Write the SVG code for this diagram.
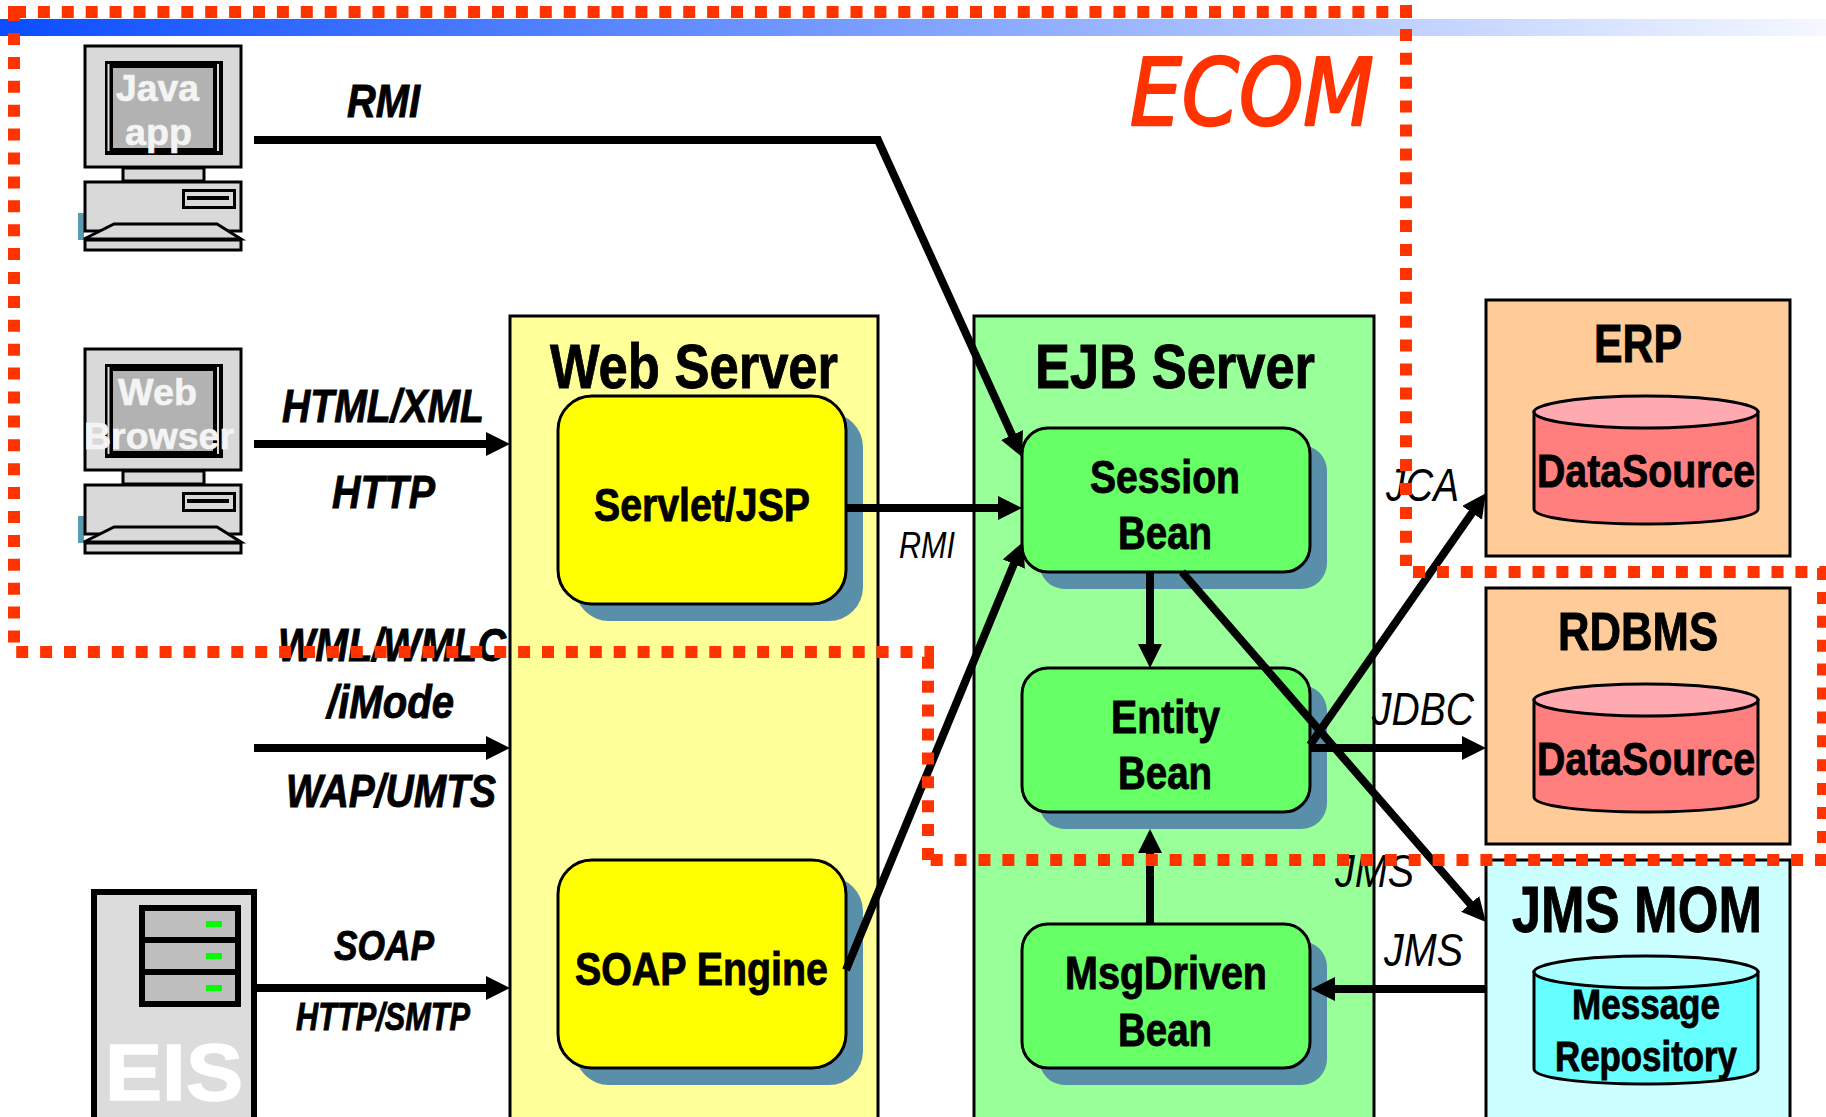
<svg xmlns="http://www.w3.org/2000/svg" xmlns:xlink="http://www.w3.org/1999/xlink" width="1826" height="1117" viewBox="0 0 1826 1117">
<defs>
<style>
text{font-family:"Liberation Sans",Arial,sans-serif;fill:#000;text-anchor:start}
.b{font-weight:700;stroke:#000;stroke-width:.9}
.bi{font-weight:700;font-style:italic;stroke:#000;stroke-width:.9}
.i{font-style:italic}
.w{fill:#f4f4f4;font-weight:700;stroke:#f4f4f4;stroke-width:.6}
.box{stroke:#000;stroke-width:3}
.shadow{fill:#5a8fa9}
.node{stroke:#000;stroke-width:3}
.cn{fill:none;stroke:#000;stroke-width:8;marker-end:url(#ah)}
.red{fill:none;stroke:#ff3300;stroke-width:12;stroke-dasharray:12 11.9}
.ic{fill:#d9d9d9;stroke:#000;stroke-width:3}
.cyl{stroke:#000;stroke-width:3}
</style>
<linearGradient id="band" x1="0" x2="1" y1="0" y2="0"><stop offset="0" stop-color="#0b4dff"/><stop offset="1" stop-color="#f5f8ff"/></linearGradient>
<marker id="ah" markerUnits="userSpaceOnUse" markerWidth="24" markerHeight="24" refX="12" refY="12" orient="auto" viewBox="0 0 24 24"><path d="M0 0L24 12L0 24Z" fill="#000"/></marker>
<g id="pc">
<rect x="78" y="212" width="6" height="27" fill="#5b9bb0"/>
<rect class="ic" x="85" y="45" width="156" height="121"/>
<rect x="105" y="60" width="118" height="94" fill="#000"/>
<rect x="107.500" y="63" width="2" height="87" fill="#d9d9d9"/>
<rect x="217" y="63" width="2" height="87" fill="#d9d9d9"/>
<rect x="113" y="67" width="100" height="80" fill="#b2b2b2"/>
<rect class="ic" x="123" y="167" width="81" height="13"/>
<rect class="ic" x="85" y="181" width="156" height="49"/>
<rect x="182" y="188" width="54" height="20" fill="#000"/>
<rect x="185" y="191" width="48" height="14" fill="#d9d9d9"/>
<rect x="187" y="195" width="42" height="4" fill="#000"/>
<path class="ic" d="M84 238L114 223H217L241 238Z"/>
<rect class="ic" x="85" y="239" width="156" height="10"/>
</g>
</defs>
<rect width="1826" height="1117" fill="#fff"/>
<rect id="band-top" x="0" y="19" width="1826" height="17" fill="url(#band)"/>

<g id="java-app">
<use href="#pc" xlink:href="#pc" y="1"/>
<text class="w" x="116" y="101" font-size="37" textLength="83" lengthAdjust="spacingAndGlyphs">Java</text>
<text class="w" x="125" y="145" font-size="37" textLength="67" lengthAdjust="spacingAndGlyphs">app</text>
</g>
<g id="web-browser">
<use href="#pc" xlink:href="#pc" y="304"/>
<text class="w" x="118" y="405" font-size="37" textLength="79" lengthAdjust="spacingAndGlyphs">Web</text>
<text class="w" x="84" y="449" font-size="37" textLength="150" lengthAdjust="spacingAndGlyphs">Browser</text>
</g>
<g id="eis">
<rect x="94" y="892" width="160" height="232" fill="#dcdcdc" stroke="#000" stroke-width="6"/>
<rect x="139" y="905" width="102" height="102" fill="#000"/>
<rect x="145" y="911" width="90" height="26" fill="#bebebe"/>
<rect x="145" y="943" width="90" height="26" fill="#bebebe"/>
<rect x="145" y="975" width="90" height="26" fill="#bebebe"/>
<rect x="206" y="921" width="16" height="6" fill="#00ff00"/>
<rect x="206" y="953" width="16" height="6" fill="#00ff00"/>
<rect x="206" y="985" width="16" height="6" fill="#00ff00"/>
<text x="105" y="1100" font-size="80" font-weight="700" style="fill:#fff;stroke:#fff;stroke-width:1.500" textLength="138" lengthAdjust="spacingAndGlyphs">EIS</text>
</g>

<g id="web-server">
<rect class="box" x="510" y="316" width="368" height="810" fill="#ffff99"/>
<text class="b" x="550" y="388" font-size="63" textLength="288" lengthAdjust="spacingAndGlyphs">Web Server</text>
</g>
<g id="servlet-jsp">
<rect class="shadow" x="575" y="413" width="288" height="208" rx="34"/>
<rect class="node" x="558" y="396" width="288" height="208" rx="34" fill="#ffff00"/>
<text class="b" x="594" y="521" font-size="47" textLength="216" lengthAdjust="spacingAndGlyphs">Servlet/JSP</text>
</g>
<g id="soap-engine">
<rect class="shadow" x="575" y="877" width="288" height="208" rx="34"/>
<rect class="node" x="558" y="860" width="288" height="208" rx="34" fill="#ffff00"/>
<text class="b" x="575" y="985" font-size="47" textLength="253" lengthAdjust="spacingAndGlyphs">SOAP Engine</text>
</g>

<g id="ejb-server">
<rect class="box" x="974" y="316" width="400" height="810" fill="#99ff99"/>
<text class="b" x="1035" y="388" font-size="63" textLength="280" lengthAdjust="spacingAndGlyphs">EJB Server</text>
</g>
<g id="session-bean">
<rect class="shadow" x="1039" y="445" width="288" height="144" rx="26"/>
<rect class="node" x="1022" y="428" width="288" height="144" rx="26" fill="#66ff66"/>
<text class="b" x="1090" y="493" font-size="47" textLength="150" lengthAdjust="spacingAndGlyphs">Session</text>
<text class="b" x="1118" y="549" font-size="47" textLength="94" lengthAdjust="spacingAndGlyphs">Bean</text>
</g>
<g id="entity-bean">
<rect class="shadow" x="1039" y="685" width="288" height="144" rx="26"/>
<rect class="node" x="1022" y="668" width="288" height="144" rx="26" fill="#66ff66"/>
<text class="b" x="1111" y="733" font-size="47" textLength="109" lengthAdjust="spacingAndGlyphs">Entity</text>
<text class="b" x="1118" y="789" font-size="47" textLength="94" lengthAdjust="spacingAndGlyphs">Bean</text>
</g>
<g id="msgdriven-bean">
<rect class="shadow" x="1039" y="941" width="288" height="144" rx="26"/>
<rect class="node" x="1022" y="924" width="288" height="144" rx="26" fill="#66ff66"/>
<text class="b" x="1065" y="989" font-size="47" textLength="202" lengthAdjust="spacingAndGlyphs">MsgDriven</text>
<text class="b" x="1118" y="1046" font-size="47" textLength="94" lengthAdjust="spacingAndGlyphs">Bean</text>
</g>

<g id="erp">
<rect class="box" x="1486" y="300" width="304" height="256" fill="#ffcc99"/>
<text class="b" x="1594" y="362" font-size="53" textLength="88" lengthAdjust="spacingAndGlyphs">ERP</text>
<path class="cyl" d="M1534 412V509C1534 518 1584 524 1646 524S1758 518 1758 509V412Z" fill="#ff7f7f"/>
<ellipse class="cyl" cx="1646" cy="412" rx="112" ry="16" fill="#ffaab0"/>
<text class="b" x="1537" y="487" font-size="47" textLength="218" lengthAdjust="spacingAndGlyphs">DataSource</text>
</g>
<g id="rdbms">
<rect class="box" x="1486" y="588" width="304" height="256" fill="#ffcc99"/>
<text class="b" x="1558" y="650" font-size="53" textLength="160" lengthAdjust="spacingAndGlyphs">RDBMS</text>
<path class="cyl" d="M1534 700V797C1534 806 1584 812 1646 812S1758 806 1758 797V700Z" fill="#ff7f7f"/>
<ellipse class="cyl" cx="1646" cy="700" rx="112" ry="16" fill="#ffaab0"/>
<text class="b" x="1537" y="775" font-size="47" textLength="218" lengthAdjust="spacingAndGlyphs">DataSource</text>
</g>
<g id="jms-mom">
<rect class="box" x="1486" y="860" width="304" height="266" fill="#ccffff"/>
<text class="b" x="1512" y="932" font-size="65" textLength="250" lengthAdjust="spacingAndGlyphs">JMS MOM</text>
<path class="cyl" d="M1534 972V1069C1534 1078 1584 1084 1646 1084S1758 1078 1758 1069V972Z" fill="#66ffff"/>
<ellipse class="cyl" cx="1646" cy="972" rx="112" ry="16" fill="#a9ffff"/>
<text class="b" x="1572" y="1019" font-size="43" textLength="148" lengthAdjust="spacingAndGlyphs">Message</text>
<text class="b" x="1555" y="1071" font-size="43" textLength="182" lengthAdjust="spacingAndGlyphs">Repository</text>
</g>

<g id="connectors">
<path class="cn" d="M254 140H878L1017 446"/>
<path class="cn" d="M254 444H498"/>
<path class="cn" d="M254 748H498"/>
<path class="cn" d="M257 988H498"/>
<path class="cn" d="M846 508H1010"/>
<path class="cn" d="M846 970L1018.400 553"/>
<path class="cn" d="M1150 572V656"/>
<path class="cn" d="M1150 924V841"/>
<path class="cn" d="M1182 572L1478 913"/>
<path class="cn" d="M1310 745L1479 503"/>
<path class="cn" d="M1310 748H1474"/>
<path class="cn" d="M1486 989H1323"/>
</g>

<g id="labels">
<text class="bi" x="347" y="117" font-size="47" textLength="73" lengthAdjust="spacingAndGlyphs">RMI</text>
<text class="bi" x="282" y="422" font-size="47" textLength="202" lengthAdjust="spacingAndGlyphs">HTML/XML</text>
<text class="bi" x="332" y="508" font-size="47" textLength="103" lengthAdjust="spacingAndGlyphs">HTTP</text>
<text class="bi" x="278" y="661" font-size="47" textLength="228" lengthAdjust="spacingAndGlyphs">WML/WMLC</text>
<text class="bi" x="327" y="718" font-size="47" textLength="127" lengthAdjust="spacingAndGlyphs">/iMode</text>
<text class="bi" x="286" y="807" font-size="47" textLength="210" lengthAdjust="spacingAndGlyphs">WAP/UMTS</text>
<text class="bi" x="334" y="960" font-size="43" textLength="100" lengthAdjust="spacingAndGlyphs">SOAP</text>
<text class="bi" x="296" y="1030" font-size="38" textLength="174" lengthAdjust="spacingAndGlyphs">HTTP/SMTP</text>
<text class="i" x="899" y="558" font-size="37" textLength="56" lengthAdjust="spacingAndGlyphs">RMI</text>
<text class="i" x="1386" y="501" font-size="46" textLength="73" lengthAdjust="spacingAndGlyphs">JCA</text>
<text class="i" x="1372" y="725" font-size="46" textLength="102" lengthAdjust="spacingAndGlyphs">JDBC</text>
<text class="i" x="1335" y="887" font-size="46" textLength="79" lengthAdjust="spacingAndGlyphs">JMS</text>
<text class="i" x="1384" y="966" font-size="46" textLength="79" lengthAdjust="spacingAndGlyphs">JMS</text>
<text id="ecom" x="1130" y="125" font-size="92" textLength="244" lengthAdjust="spacingAndGlyphs" style="font-family:'DejaVu Sans',sans-serif;font-style:italic;fill:#ff3300;stroke:#ff3300;stroke-width:2.500;stroke-linejoin:round">ECOM</text>
</g>

<g id="ecom-boundary">
<path fill="#ff3300" d="M8 6h12v12h-12z"/>
<path class="red" d="M14 12H1412"/>
<path class="red" d="M14 9.100V652"/>
<path class="red" d="M1406 5V566"/>
<path class="red" d="M1413 572H1826"/>
<path class="red" d="M1823 568V860"/>
<path class="red" d="M1827 860H923"/>
<path class="red" d="M928 860V652"/>
<path class="red" d="M16.200 652H934"/>
</g>
</svg>
